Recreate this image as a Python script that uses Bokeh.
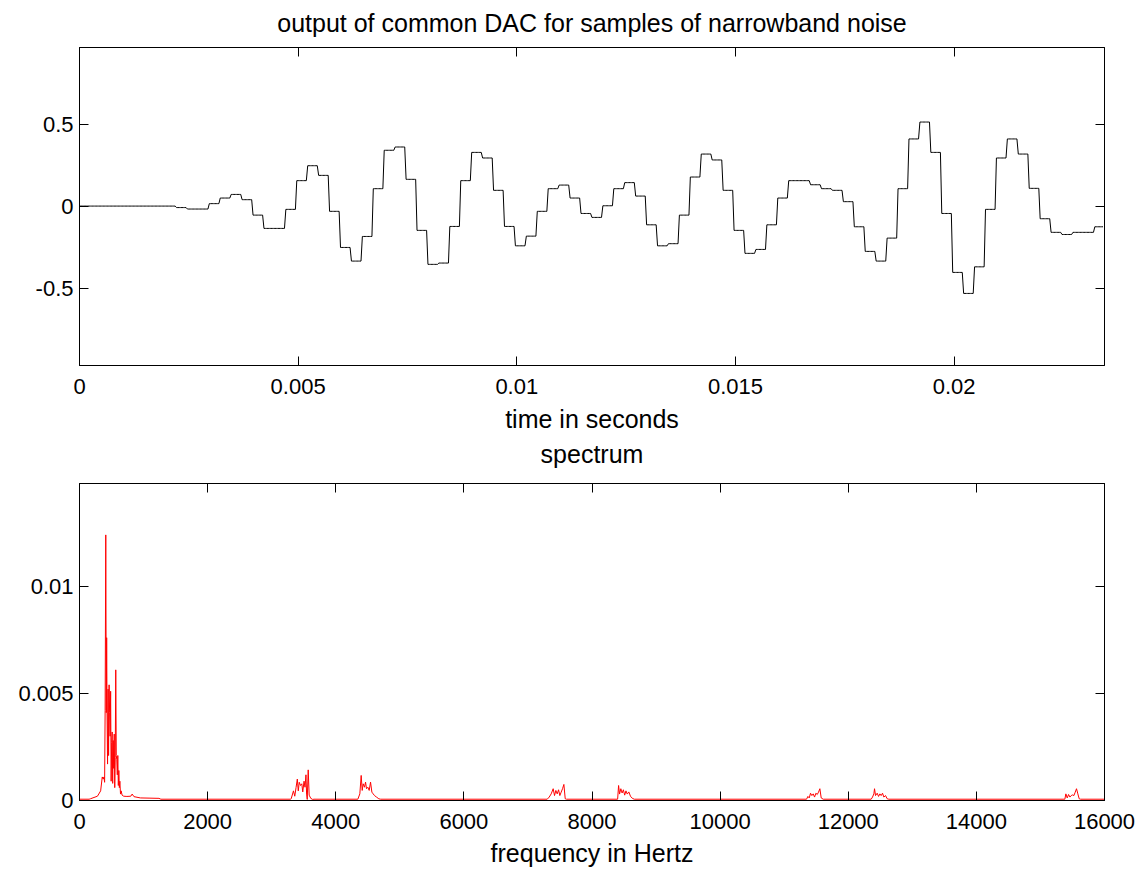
import numpy as np
from bokeh.plotting import figure
from bokeh.models import Range1d, LinearAxis, FixedTicker
from bokeh.core.properties import value
from bokeh.layouts import column
from bokeh.embed import file_html
from bokeh.resources import INLINE

FONT = "Liberation Sans"

# ---------------- data ----------------
# held DAC sample values (one value per 1/4000 s hold period)
dac_samples = [
    0, 0, 0, 0, 0, 0, 0, 0, 0,
    -0.009, -0.018, -0.018, 0.015, 0.049, 0.071, 0.039, -0.055, -0.136, -0.136,
    -0.020, 0.155, 0.246, 0.187, -0.032, -0.252, -0.335, -0.185, 0.106, 0.340,
    0.360, 0.163, -0.148, -0.355, -0.347, -0.124, 0.155, 0.327, 0.293, 0.096,
    -0.124, -0.242, -0.183, -0.032, 0.106, 0.128, 0.049, -0.045, -0.069, 0.002,
    0.106, 0.143, 0.061, -0.114, -0.242, -0.229, -0.055, 0.177, 0.317, 0.281,
    0.096, -0.148, -0.288, -0.264, -0.114, 0.049, 0.155, 0.155, 0.130, 0.106,
    0.096, 0.027, -0.126, -0.276, -0.335, -0.195, 0.106, 0.409, 0.512, 0.327,
    -0.045, -0.404, -0.532, -0.370, -0.020, 0.293, 0.409, 0.317, 0.108, -0.077,
    -0.160, -0.173, -0.160, -0.160, -0.126,
]
fine_rate = 32000      # display sample rate (Hz)
hold_len = 8           # fine samples per DAC hold
n_fine = 750           # number of fine samples shown

time_ticks = [0, 0.005, 0.01, 0.015, 0.02]
time_tick_labels = ["0", "0.005", "0.01", "0.015", "0.02"]
amp_ticks = [-0.5, 0, 0.5]
amp_tick_labels = ["-0.5", "0", "0.5"]

spec_freq = [
    0, 150, 170, 280, 330, 355, 370, 382, 392, 400, 410, 418, 424, 430, 438, 446,
    454, 462, 470, 478, 486, 494, 502, 510, 518, 526, 534, 542, 550, 558, 566,
    574, 582, 590, 598, 606, 614, 622, 630, 640, 650, 665, 690, 740, 800, 822,
    850, 950, 1100, 1240, 1270,
    3294, 3304, 3340, 3360, 3380, 3400, 3415, 3430, 3450, 3470, 3485, 3505,
    3520, 3535, 3545, 3555, 3570, 3585, 3610, 3640, 3660,
    4345, 4376, 4397, 4413, 4428, 4449, 4465, 4480, 4501, 4522, 4543, 4564,
    4584, 4605, 4636, 4672, 4700,
    7301, 7332, 7363, 7394, 7415, 7436, 7457, 7478, 7498, 7519, 7540, 7561,
    7582, 7602,
    8400, 8415, 8430, 8450, 8470, 8490, 8510, 8530, 8550, 8575, 8600, 8630, 8660,
    11349, 11370, 11391, 11411, 11432, 11453, 11474, 11495, 11516, 11536, 11557,
    11578, 11609,
    12358, 12379, 12400, 12410, 12426, 12452, 12473, 12494, 12514, 12535, 12556,
    12582, 12608, 12634,
    15381, 15397, 15418, 15439, 15460, 15480, 15501, 15522, 15543, 15563, 15584,
    15605, 15626,
    16000,
]
spec_mag = [
    0.00006, 0.00006, 0.00008, 0.00020, 0.00045, 0.00110, 0.00100, 0.00110, 0.00085,
    0.00420, 0.01240, 0.00410, 0.00760, 0.00410, 0.00170, 0.00520, 0.00210, 0.00540,
    0.00410, 0.00300, 0.00510, 0.00090, 0.00270, 0.00320, 0.00080, 0.00280, 0.00150,
    0.00310, 0.00060, 0.00200, 0.00610, 0.00210, 0.00190, 0.00120, 0.00210, 0.00070,
    0.00140, 0.00060, 0.00090, 0.00030, 0.00045, 0.00025, 0.00020, 0.00019, 0.00020,
    0.00030, 0.00018, 0.00012, 0.00011, 0.00010, 0.00006,
    0.00006, 0.00008, 0.00045, 0.00020, 0.00060, 0.00100, 0.00045, 0.00085, 0.00070,
    0.00078, 0.00040, 0.00090, 0.00062, 0.00120, 0.00030, 0.00005, 0.00143, 0.00025,
    0.00010, 0.00005, 0.00006,
    0.00006, 0.00031, 0.00117, 0.00047, 0.00078, 0.00062, 0.00086, 0.00055, 0.00062,
    0.00047, 0.00086, 0.00039, 0.00031, 0.00023, 0.00016, 0.00008, 0.00006,
    0.00006, 0.00016, 0.00031, 0.00055, 0.00023, 0.00047, 0.00031, 0.00050, 0.00023,
    0.00039, 0.00055, 0.00075, 0.00008, 0.00006,
    0.00006, 0.00070, 0.00030, 0.00055, 0.00035, 0.00050, 0.00025, 0.00045, 0.00030,
    0.00040, 0.00020, 0.00010, 0.00006,
    0.00006, 0.00019, 0.00012, 0.00034, 0.00023, 0.00031, 0.00016, 0.00034, 0.00028,
    0.00039, 0.00055, 0.00012, 0.00006,
    0.00006, 0.00016, 0.00031, 0.00055, 0.00023, 0.00034, 0.00019, 0.00031, 0.00023,
    0.00034, 0.00016, 0.00023, 0.00008, 0.00006,
    0.00006, 0.00031, 0.00012, 0.00028, 0.00016, 0.00023, 0.00026, 0.00023, 0.00039,
    0.00055, 0.00031, 0.00008, 0.00006,
    0.00006,
]

freq_ticks = [0, 2000, 4000, 6000, 8000, 10000, 12000, 14000, 16000]
freq_tick_labels = ["0", "2000", "4000", "6000", "8000", "10000", "12000", "14000", "16000"]
mag_ticks = [0, 0.005, 0.01]
mag_tick_labels = ["0", "0.005", "0.01"]

top_title = "output of common DAC for samples of narrowband noise"
top_xlabel = "time in seconds"
bottom_title = "spectrum"
bottom_xlabel = "frequency in Hertz"

# ------------- build held signal from samples -------------
n = np.arange(n_fine)
idx = np.minimum((n + 1) // hold_len, len(dac_samples) - 1)
t_fine = n / fine_rate
y_fine = np.array(dac_samples)[idx]

TICK_FS = "22px"
LABEL_FS = "25px"
W = 1145
FRAME_L, FRAME_R = 79, 41


def style_axis(ax, ticks, labels, show_labels=True, standoff=8):
    ax.ticker = FixedTicker(ticks=ticks)
    ax.major_label_overrides = {t: l for t, l in zip(ticks, labels)}
    ax.major_tick_in = 9
    ax.major_tick_out = 0
    ax.minor_tick_in = 0
    ax.minor_tick_out = 0
    ax.axis_line_color = "black"
    ax.axis_line_width = 1
    ax.major_tick_line_color = "black"
    ax.major_label_text_font = FONT
    if show_labels:
        ax.major_label_text_color = "black"
        ax.major_label_text_font_size = TICK_FS
        ax.major_label_standoff = standoff
    else:
        ax.major_label_text_color = None
        ax.major_label_text_font_size = "1px"
        ax.major_label_standoff = 0


def text_strip(height, texts, ys_from_top):
    # a blank strip (frame aligned with the plots' frames) holding centred texts
    f = figure(width=W, height=height, output_backend="svg", toolbar_location=None,
               x_range=Range1d(0, 1), y_range=Range1d(0, height),
               x_axis_location=None, y_axis_location=None,
               min_border_left=FRAME_L, min_border_right=FRAME_R,
               min_border_top=0, min_border_bottom=0)
    f.grid.visible = False
    f.outline_line_color = None
    f.background_fill_color = "white"
    f.border_fill_color = "white"
    f.text(x=[0.5] * len(texts), y=[height - v for v in ys_from_top], text=texts,
           text_align="center", text_baseline="middle",
           text_font=value(FONT), text_font_size=LABEL_FS, text_color="black")
    return f


def plot_fig(height, top, bottom, xr, yr):
    p = figure(width=W, height=height, output_backend="svg", toolbar_location=None,
               x_range=xr, y_range=yr,
               min_border_left=FRAME_L, min_border_right=FRAME_R,
               min_border_top=top, min_border_bottom=bottom)
    p.grid.visible = False
    p.outline_line_color = "black"
    p.background_fill_color = "white"
    p.border_fill_color = "white"
    return p


# ---------------- top strip: title ----------------
s1 = text_strip(41, [top_title], [22])

# ---------------- top: DAC output ----------------
p1 = plot_fig(362, 6, 38, Range1d(0, 0.02344), Range1d(-0.971, 0.966))
p1.line(t_fine, y_fine, line_color="black", line_width=1)
style_axis(p1.xaxis[0], time_ticks, time_tick_labels, standoff=13)
style_axis(p1.yaxis[0], amp_ticks, amp_tick_labels, standoff=6)
ax_top1 = LinearAxis()
style_axis(ax_top1, time_ticks, time_tick_labels, show_labels=False)
p1.add_layout(ax_top1, "above")
ax_right1 = LinearAxis()
style_axis(ax_right1, amp_ticks, amp_tick_labels, show_labels=False)
p1.add_layout(ax_right1, "right")

# ---------------- middle strip: x label + second title ----------------
s2 = text_strip(74, [top_xlabel, bottom_title], [15, 50])

# ---------------- bottom: spectrum ----------------
p2 = plot_fig(361, 6, 38, Range1d(0, 16000), Range1d(0, 0.0148))
p2.line(spec_freq, spec_mag, line_color="red", line_width=1)
style_axis(p2.xaxis[0], freq_ticks, freq_tick_labels, standoff=13)
style_axis(p2.yaxis[0], mag_ticks, mag_tick_labels, standoff=6)
ax_top2 = LinearAxis()
style_axis(ax_top2, freq_ticks, freq_tick_labels, show_labels=False)
p2.add_layout(ax_top2, "above")
ax_right2 = LinearAxis()
style_axis(ax_right2, mag_ticks, mag_tick_labels, show_labels=False)
p2.add_layout(ax_right2, "right")

# ---------------- bottom strip: x label ----------------
s3 = text_strip(31, [bottom_xlabel], [14])

layout = column(s1, p1, s2, p2, s3, spacing=0)
open("out.html", "w").write(file_html(layout, INLINE))
